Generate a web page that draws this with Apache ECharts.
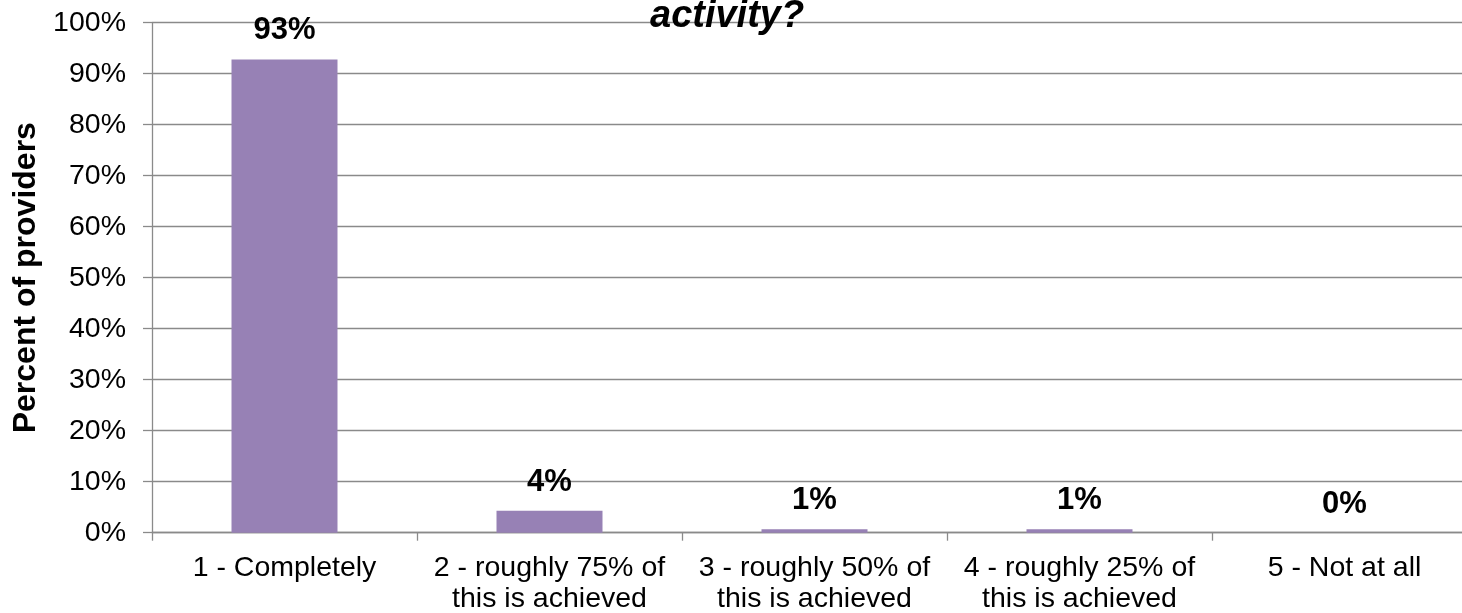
<!DOCTYPE html>
<html><head><meta charset="utf-8">
<script src="https://cdn.jsdelivr.net/npm/echarts@6/dist/echarts.min.js"></script>
<style>html,body{margin:0;padding:0;background:#fff}#c{width:1462px;height:613px}</style>
</head><body><div id="c"></div>
<script>
const titleText = 'activity?';
const categories = ['1 - Completely', '2 - roughly 75% of\nthis is achieved', '3 - roughly 50% of\nthis is achieved', '4 - roughly 25% of\nthis is achieved', '5 - Not at all'];
const values = [92.8, 4.3, 0.7, 0.7, 0];
const yTicks = [0, 10, 20, 30, 40, 50, 60, 70, 80, 90, 100];
const yAxisName = 'Percent of providers';

const FONT = "'Liberation Sans', Arial, sans-serif";
const GRAY = '#8a8a8a';
const chart = echarts.init(document.getElementById('c'), null, {renderer: 'canvas'});
chart.setOption({
  animation: false,
  backgroundColor: '#fff',
  title: {
    text: titleText, left: 645, top: -7,
    textStyle: {fontFamily: FONT, fontSize: 38, fontWeight: 'bold', fontStyle: 'italic', color: '#000'}
  },
  grid: {left: 152, top: 22.7, width: 1325, height: 510, containLabel: false, outerBoundsMode: 'none'},
  xAxis: {
    type: 'category', data: categories,
    axisLine: {lineStyle: {color: GRAY, width: 1.3}},
    axisTick: {show: true, length: 8, lineStyle: {color: GRAY, width: 1.3}},
    axisLabel: {fontFamily: FONT, fontSize: 28.5, color: '#000', margin: 20, lineHeight: 31, interval: 0}
  },
  yAxis: {
    type: 'value', min: yTicks[0], max: yTicks[yTicks.length - 1], interval: 10,
    name: yAxisName, nameLocation: 'middle', nameGap: 105,
    nameTextStyle: {fontFamily: FONT, fontSize: 32, fontWeight: 'bold', color: '#000'},
    axisLine: {show: true, lineStyle: {color: GRAY, width: 1.3}},
    axisTick: {show: true, length: 9, lineStyle: {color: GRAY, width: 1.3}},
    splitLine: {show: true, lineStyle: {color: GRAY, width: 1.3}},
    axisLabel: {fontFamily: FONT, fontSize: 28.5, color: '#000', margin: 26, formatter: v => v + '%'}
  },
  series: [{
    type: 'bar', data: values, barWidth: '40%',
    itemStyle: {color: '#9781B5'},
    label: {
      show: true, position: 'top', distance: 13,
      fontFamily: FONT, fontSize: 31, fontWeight: 'bold', color: '#000',
      formatter: p => Math.round(p.value) + '%'
    }
  }]
});
</script></body></html>
